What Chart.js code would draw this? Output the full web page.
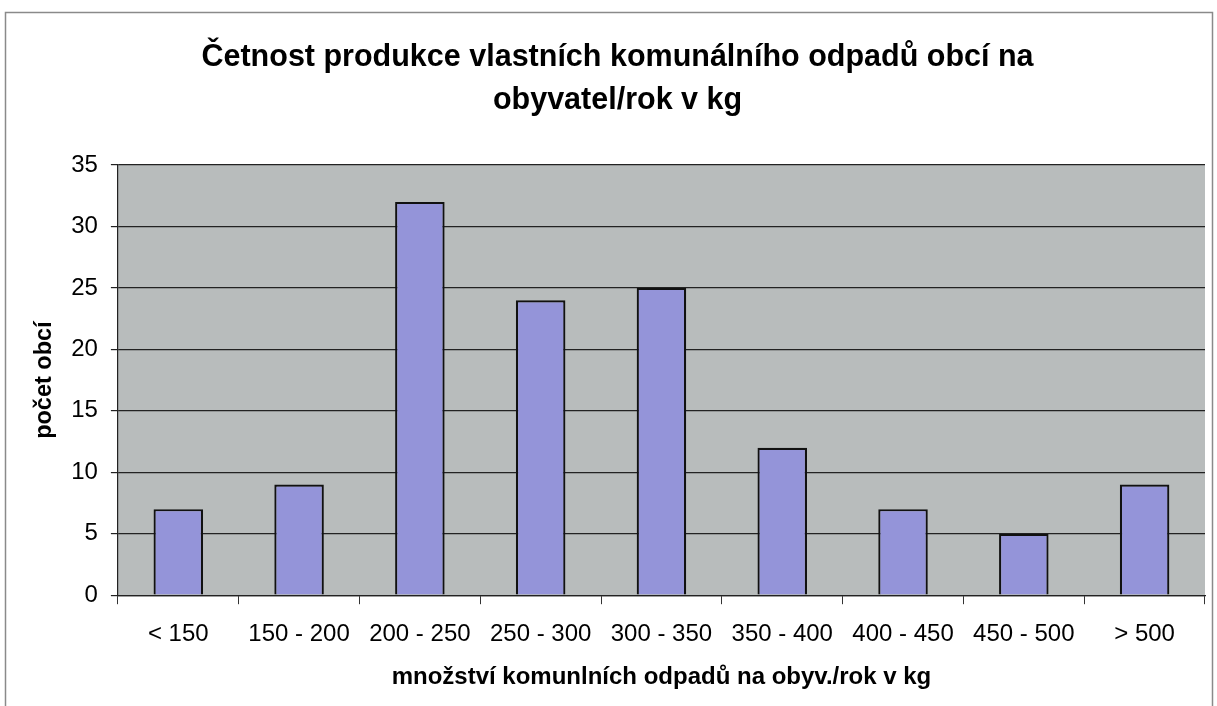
<!DOCTYPE html>
<html>
<head>
<meta charset="utf-8">
<title>Četnost produkce komunálního odpadu</title>
<script src="https://cdn.jsdelivr.net/npm/chart.js@4/dist/chart.umd.min.js"></script>
<style>
    html, body { margin: 0; padding: 0; background: #ffffff; }
    #wrap { width: 1217px; height: 706px; position: relative; }
</style>
</head>
<body>
<div id="wrap"><canvas id="histChart" width="1217" height="706"></canvas></div>
<script>
// ======================== Data ========================

const categories = ['< 150', '150 - 200', '200 - 250', '250 - 300', '300 - 350',
                    '350 - 400', '400 - 450', '450 - 500', '> 500'];
const municipalityCounts = [7, 9, 32, 24, 25, 12, 7, 5, 9];
const yTicks = [0, 5, 10, 15, 20, 25, 30, 35];

const titleLines = ['Četnost produkce vlastních komunálního odpadů obcí na', 'obyvatel/rok v kg'];
const xTitle = 'množství komunlních odpadů na obyv./rok v kg';
const yTitle = 'počet obcí';

// ======================== Plugins ========================

// gray plot area + thin frame round the whole chart
const backdrop = {
    id: 'backdrop',
    beforeDraw(chart) {
        const { ctx, chartArea: a } = chart;
        ctx.save();
        ctx.fillStyle = '#ffffff';
        ctx.fillRect(0, 0, chart.width, chart.height);
        ctx.strokeStyle = '#8a8a8a';
        ctx.lineWidth = 1.5;
        ctx.strokeRect(5.5, 12.5, chart.width - 10, chart.height - 8);
        ctx.fillStyle = '#b8bcbc';
        ctx.fillRect(a.left, a.top, a.right - a.left, a.bottom - a.top);
        ctx.restore();
    }
};

// ======================== Chart ========================

const FONT = 'Liberation Sans, Arial, sans-serif';
const ctx = document.getElementById('histChart').getContext('2d');

new Chart(ctx, {
    type: 'bar',
    data: {
        labels: categories,
        datasets: [{
            label: yTitle,
            data: municipalityCounts,
            backgroundColor: '#9494d9',
            borderColor: '#111111',
            borderWidth: 2.2,
            barPercentage: 0.41,
            categoryPercentage: 1.0
        }]
    },
    options: {
        responsive: false,
        animation: false,
        layout: {
            padding: { left: 30, right: 12, top: 14, bottom: 17 }
        },
        scales: {
            x: {
                grid: {
                    offset: true,
                    drawOnChartArea: false,
                    drawTicks: true,
                    tickLength: 9,
                    color: '#333333'
                },
                border: { display: true, color: '#222222', width: 1.2 },
                ticks: {
                    color: '#000000',
                    padding: 16,
                    maxRotation: 0,
                    autoSkip: false,
                    font: { family: FONT, size: 24 }
                },
                title: {
                    display: true,
                    text: xTitle,
                    color: '#000000',
                    padding: { top: 0, bottom: 0 },
                    font: { family: FONT, size: 24, weight: 'bold', lineHeight: 1.0 }
                }
            },
            y: {
                min: 0,
                max: 35,
                afterBuildTicks(axis) {
                    axis.ticks = yTicks.map(v => ({ value: v }));
                },
                grid: {
                    color: '#222222',
                    lineWidth: 1.2,
                    drawTicks: true,
                    tickLength: 7
                },
                border: { display: true, color: '#222222', width: 1.2 },
                ticks: {
                    color: '#000000',
                    padding: 13,
                    font: { family: FONT, size: 24 }
                },
                title: {
                    display: true,
                    text: yTitle,
                    color: '#000000',
                    padding: { top: 0, bottom: 0 },
                    font: { family: FONT, size: 23.5, weight: 'bold' }
                }
            }
        },
        plugins: {
            legend: { display: false },
            tooltip: { enabled: false },
            title: {
                display: true,
                text: titleLines,
                color: '#000000',
                padding: { top: 22, bottom: 43 },
                font: { family: FONT, size: 30.5, weight: 'bold', lineHeight: 1.41 }
            }
        }
    },
    plugins: [backdrop]
});
</script>
</body>
</html>
